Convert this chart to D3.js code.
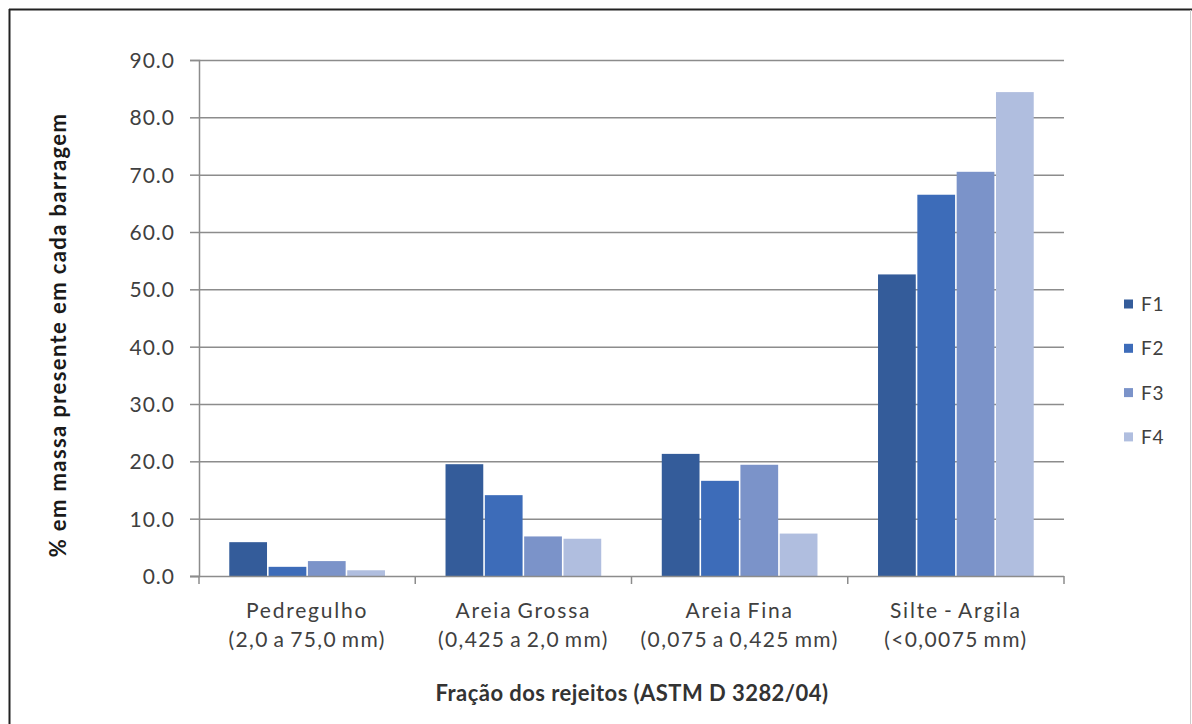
<!DOCTYPE html>
<html><head><meta charset="utf-8">
<script src="https://cdn.jsdelivr.net/npm/d3@7"></script>
<style>body{margin:0;background:#fff}svg{display:block}</style>
</head><body>
<svg id="c" width="1192" height="724"></svg>
<script>
const categories = ["Pedregulho|(2,0 a 75,0 mm)", "Areia Grossa|(0,425 a 2,0 mm)", "Areia Fina|(0,075 a 0,425 mm)", "Silte - Argila|(<0,0075 mm)"];
const seriesNames = ["F1", "F2", "F3", "F4"];
const F1 = [5.9, 19.5, 21.3, 52.6];
const F2 = [1.6, 14.1, 16.6, 66.5];
const F3 = [2.6, 6.9, 19.4, 70.5];
const F4 = [1.0, 6.5, 7.4, 84.4];
const yTicks = [0, 10, 20, 30, 40, 50, 60, 70, 80, 90];
const colors = ["#345c9a", "#3d6cb9", "#7b93c9", "#b0bedf"];
const yTitle = "% em massa  presente em cada  barragem";
const xTitle = "Fração  dos rejeitos (ASTM  D  3282/04)";

(function () {
const series = [F1, F2, F3, F4];
const svg = d3.select("#c");
const font = "Lato, Carlito, 'Open Sans', 'Liberation Sans', sans-serif";

// frame
svg.append("line").attr("x1", 9).attr("x2", 1192).attr("y1", 9.5).attr("y2", 9.5).attr("stroke", "#222").attr("stroke-width", 2);
svg.append("line").attr("x1", 9.5).attr("x2", 9.5).attr("y1", 9).attr("y2", 724).attr("stroke", "#222").attr("stroke-width", 2);
svg.append("line").attr("x1", 1190.5).attr("x2", 1190.5).attr("y1", 10).attr("y2", 724).attr("stroke", "#ccc").attr("stroke-width", 1);

const pl = 199, pr = 1064, pt = 60, pb = 576;
const y = d3.scaleLinear().domain([0, 90]).range([pb, pt]);
const x0 = d3.scaleBand().domain(categories).range([pl, pr]).paddingInner(0.28).paddingOuter(0.14);
const x1 = d3.scaleBand().domain(seriesNames).range([0, x0.bandwidth()]).paddingInner(0.04);
const xTick = d3.scaleBand().domain(categories).range([pl, pr]);

// gridlines
svg.append("g").selectAll("line").data(yTicks.filter(d => d > 0)).join("line")
  .attr("x1", pl).attr("x2", pr).attr("y1", d => y(d) + 0.5).attr("y2", d => y(d) + 0.5)
  .attr("stroke", "#8c8c8c").attr("stroke-width", 1.5);

// y axis
const yAxis = svg.append("g").attr("transform", `translate(${pl},0)`)
  .call(d3.axisLeft(y).tickValues(yTicks).tickFormat(d3.format(".1f")).tickSize(9).tickPadding(15));
yAxis.select(".domain").attr("stroke", "#8c8c8c").attr("stroke-width", 1.5);
yAxis.selectAll(".tick line").attr("stroke", "#8c8c8c").attr("stroke-width", 1.5);
yAxis.selectAll("text").attr("font-family", font).attr("font-size", 21).attr("letter-spacing", 1)
  .attr("fill", "#404040").attr("dy", "0.36em");

// bars
const g = svg.append("g");
categories.forEach((c, i) => {
  seriesNames.forEach((s, j) => {
    g.append("rect")
      .attr("x", x0(c) + x1(s)).attr("width", x1.bandwidth())
      .attr("y", y(series[j][i])).attr("height", y(0) - y(series[j][i]))
      .attr("fill", colors[j]);
  });
});

// x axis
const xAxis = svg.append("g").attr("transform", `translate(0,${pb})`);
xAxis.append("line").attr("x1", pl - 9).attr("x2", pr).attr("y1", 0.5).attr("y2", 0.5).attr("stroke", "#8c8c8c").attr("stroke-width", 1.5);
const tickPos = categories.map(c => xTick(c)).concat([pr]);
xAxis.selectAll("line.t").data(tickPos).join("line").attr("class", "t")
  .attr("x1", d => d).attr("x2", d => d).attr("y1", 0).attr("y2", 8)
  .attr("stroke", "#8c8c8c").attr("stroke-width", 1.5);
categories.forEach(c => {
  const parts = c.split("|");
  const cx = xTick(c) + xTick.bandwidth() / 2;
  parts.forEach((p, k) => {
    svg.append("text").attr("x", cx).attr("y", 618 + k * 29).attr("text-anchor", "middle")
      .attr("font-family", font).attr("font-size", 21).attr("letter-spacing", k === 0 ? 1.8 : 1.4)
      .attr("word-spacing", -2)
      .attr("fill", "#404040").text(p);
  });
});

// titles
svg.append("text").attr("x", 632).attr("y", 701).attr("text-anchor", "middle")
  .attr("font-family", font).attr("font-size", 22).attr("font-weight", "bold").attr("letter-spacing", 0.45)
  .attr("fill", "#333").text(xTitle);
svg.append("text").attr("transform", `translate(66,335) rotate(-90)`).attr("text-anchor", "middle")
  .attr("font-family", font).attr("font-size", 22).attr("font-weight", "bold").attr("letter-spacing", 1.4)
  .attr("fill", "#1a1a1a").text(yTitle);

// legend
const leg = svg.append("g");
seriesNames.forEach((s, j) => {
  const ly = 304 + j * 44.3;
  leg.append("rect").attr("x", 1124).attr("y", ly - 4.5).attr("width", 9).attr("height", 9).attr("fill", colors[j]);
  leg.append("text").attr("x", 1141).attr("y", ly + 7).attr("font-family", font).attr("font-size", 19)
    .attr("letter-spacing", 0.8).attr("fill", "#404040").text(s);
});
})();
</script>
</body></html>
